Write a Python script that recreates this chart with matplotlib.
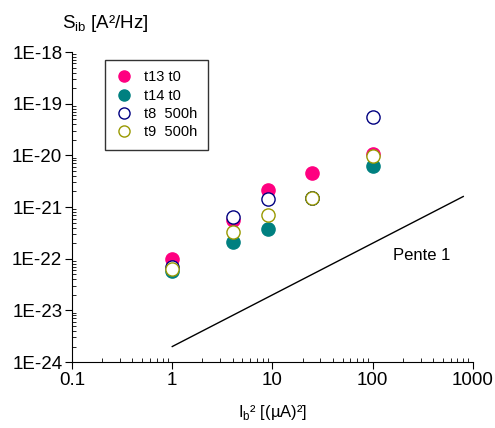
import matplotlib.pyplot as plt
import numpy as np

# Ib^2 values (uA^2)
ib2 = [1, 4, 9, 25, 100]

# Sib values (A^2/Hz)
t13_t0 = [1.0e-22, 5.5e-22, 2.1e-21, 4.6e-21, 1.05e-20]
t14_t0 = [5.8e-23, 2.1e-22, 3.7e-22, 1.5e-21, 6.3e-21]
t8_500h = [6.9e-23, 6.4e-22, 1.4e-21, 1.5e-21, 5.5e-20]
t9_500h = [6.3e-23, 3.3e-22, 7.0e-22, 1.5e-21, 9.7e-21]

# slope-1 reference line
pente_x = [1, 800]
pente_y = [2e-24, 1.6e-21]

plt.rcParams['font.family'] = ['Liberation Sans', 'DejaVu Sans']

fig = plt.figure(figsize=(4.95, 4.28), dpi=100)
ax = fig.add_axes([0.1455, 0.154, 0.81, 0.7245])

ax.plot(ib2, t13_t0, 'o', ms=9.5, color='#ff0080', mec='#ff0080', label='t13 t0')
ax.plot(ib2, t14_t0, 'o', ms=9.5, color='#008080', mec='#008080', label='t14 t0')
ax.plot(ib2, t8_500h, 'o', ms=9.5, mfc='white', mec='#000080', mew=1.0, label='t8  500h')
ax.plot(ib2, t9_500h, 'o', ms=9.5, mfc='white', mec='#999900', mew=1.0, label='t9  500h')
ax.plot(pente_x, pente_y, '-', color='black', lw=1)

ax.text(0.873, 0.345, 'Pente 1', transform=ax.transAxes, fontsize=12,
        ha='center', va='center')

ax.set_xscale('log')
ax.set_yscale('log')
ax.set_xlim(0.1, 1000)
ax.set_ylim(1e-24, 1e-18)

ax.set_xticks([0.1, 1, 10, 100, 1000])
ax.set_xticklabels(['0.1', '1', '10', '100', '1000'])
yt = [1e-24, 1e-23, 1e-22, 1e-21, 1e-20, 1e-19, 1e-18]
ax.set_yticks(yt)
ax.set_yticklabels(['1E-24', '1E-23', '1E-22', '1E-21', '1E-20', '1E-19', '1E-18'])

ax.spines['top'].set_visible(False)
ax.spines['right'].set_visible(False)
ax.tick_params(which='major', direction='out', length=5, labelsize=13.5, pad=2)
ax.tick_params(which='minor', direction='in', length=3)

ax.set_xlabel(r'I$_\mathregular{b}$² [(µA)²]', fontsize=12, labelpad=10)
fig.text(0.125, 0.945, r'S$_\mathregular{ib}$ [A²/Hz]', fontsize=13.5, ha='left', va='center')

leg = ax.legend(loc='upper left', bbox_to_anchor=(0.082, 0.974), fontsize=10.5,
                frameon=True, fancybox=False, edgecolor='black', handletextpad=0.8,
                labelspacing=0.3, borderpad=0.7, handlelength=1.2, borderaxespad=0)
leg.get_frame().set_linewidth(1.0)
for h in leg.legend_handles:
    h.set_markersize(8)

fig.savefig('out.png', dpi=100)
